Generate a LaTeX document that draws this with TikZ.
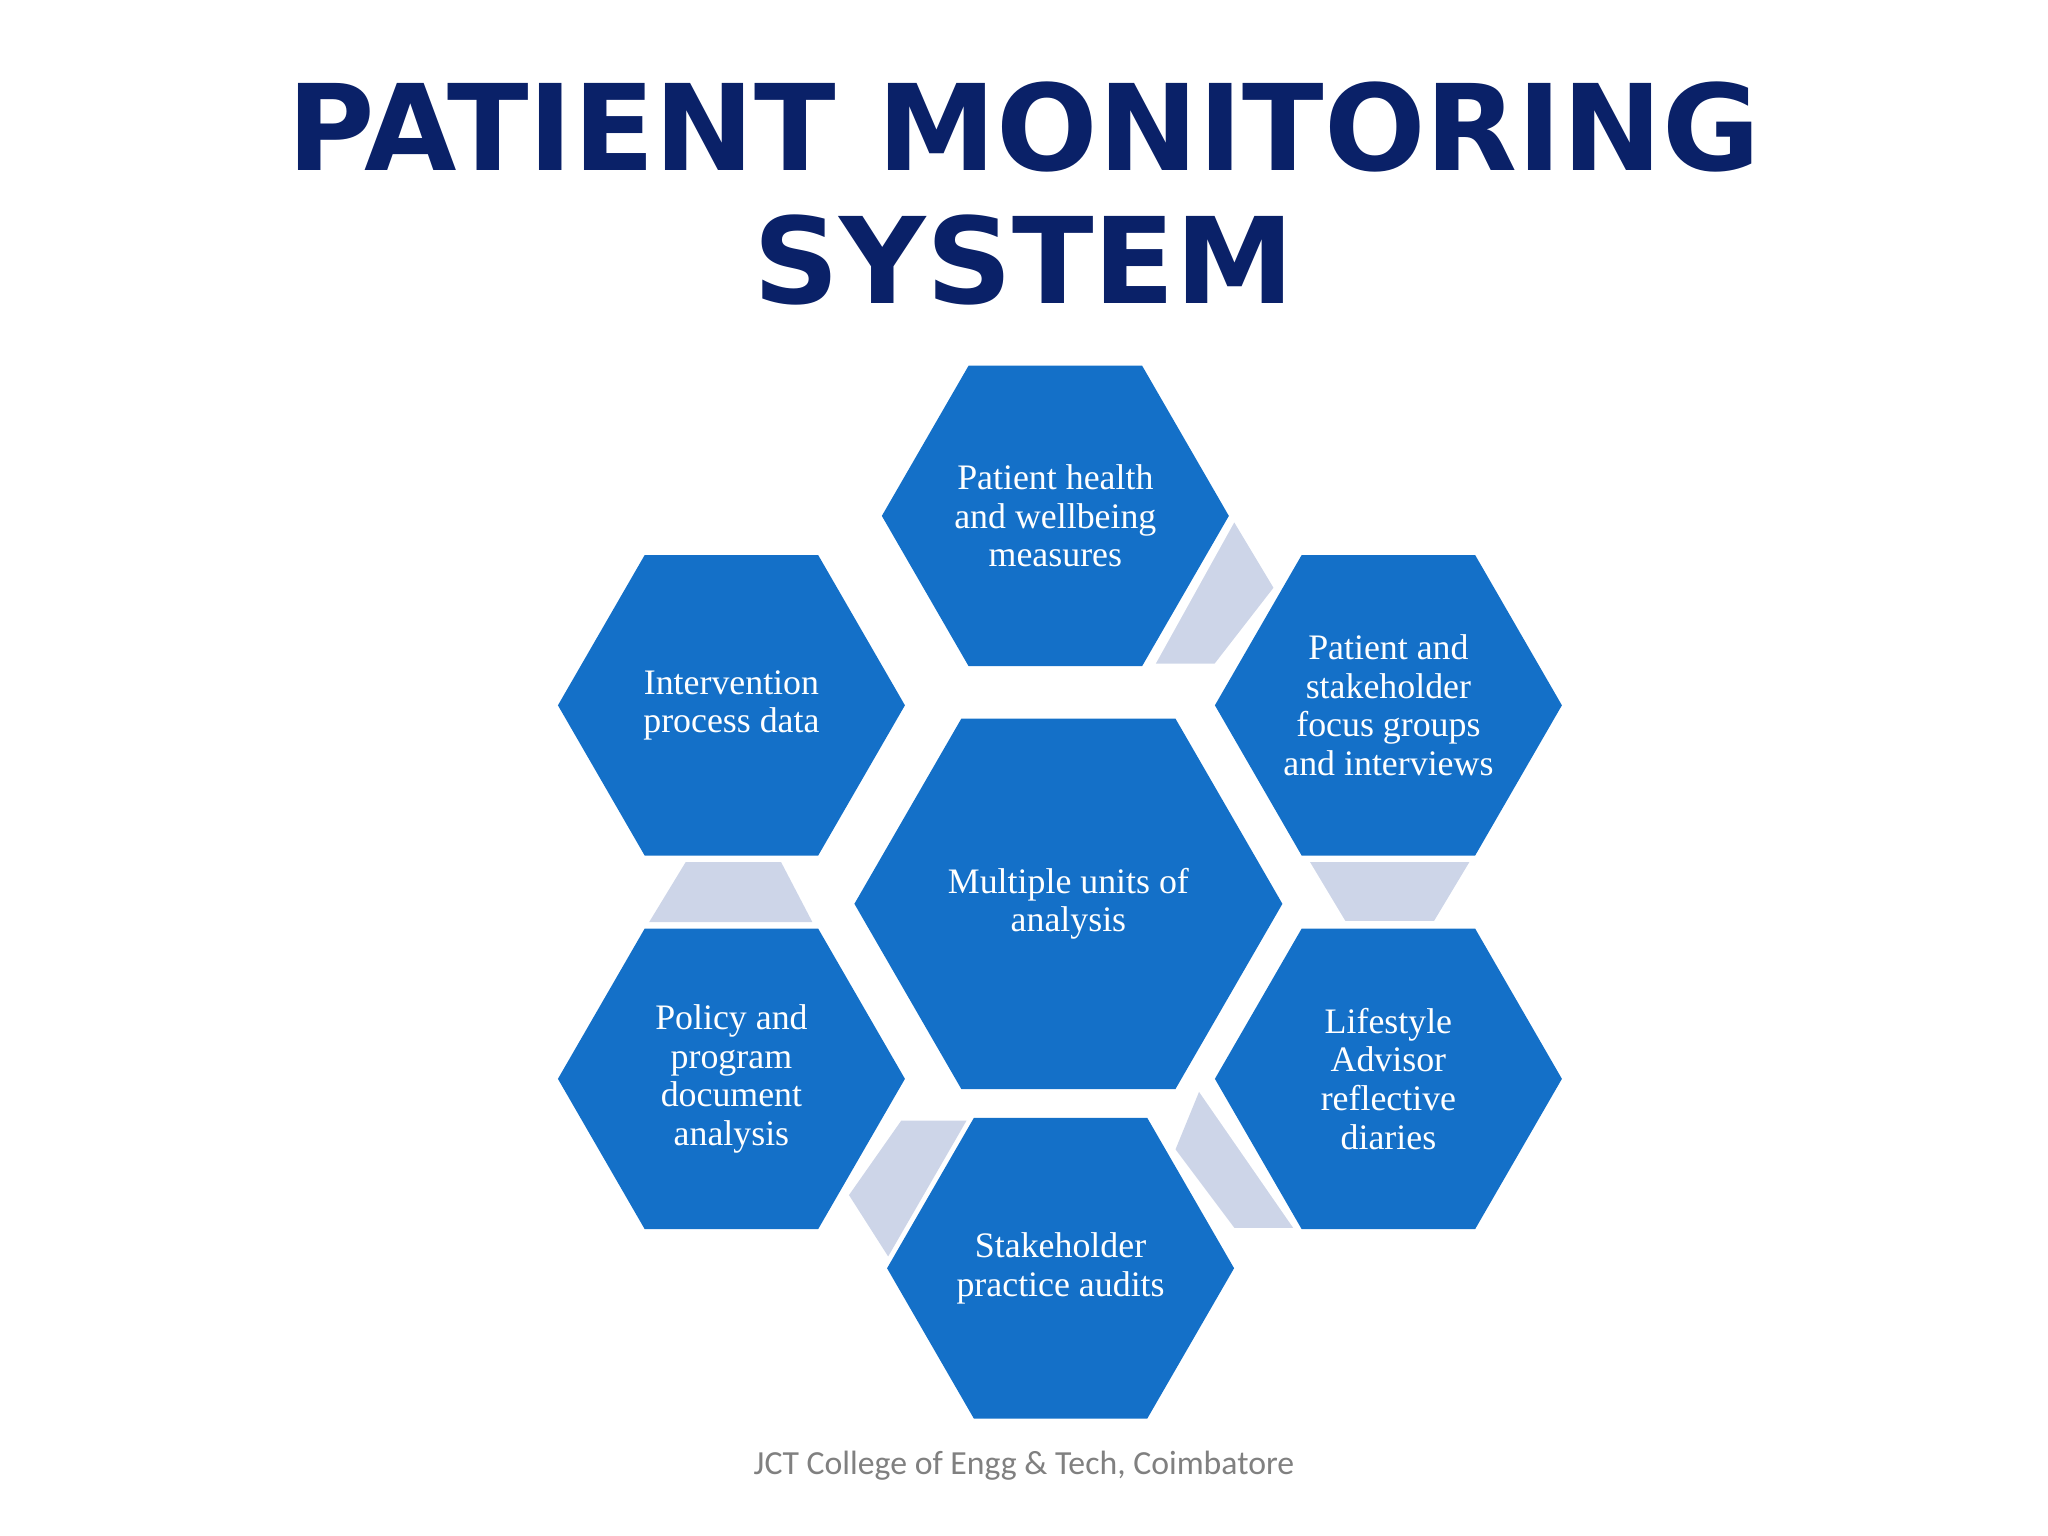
\documentclass[tikz,border=0pt]{standalone}
\usepackage{fontspec}
\setmainfont{Liberation Serif}
\newfontfamily\titlefont{DejaVu Sans}
\newfontfamily\footfont{Carlito}
\usetikzlibrary{shapes.geometric}
\definecolor{hexblue}{HTML}{1470C8}
\definecolor{linkgray}{HTML}{CDD5E8}
\definecolor{navy}{HTML}{0A2168}
\tikzstyle{hexa} = [regular polygon,regular polygon sides=6,inner sep=0pt,
                    minimum size=3.47cm,fill=hexblue,text=white,align=center,
                    font=\fontsize{10.2}{11}\selectfont]
\tikzstyle{link} = [fill=linkgray]
\begin{document}
\begin{tikzpicture}[x=0.01306cm,y=-0.01306cm]
 \useasboundingbox (0,0) rectangle (1568,1176);
 % links between cells
 \fill [link] (945,400) -- (975,450) -- (930,508) -- (885,508) -- cycle;
 \fill [link] (525,660) -- (598,660) -- (622,706) -- (497,706) -- cycle;
 \fill [link] (1003,660) -- (1125,660) -- (1098,705) -- (1030,705) -- cycle;
 \fill [link] (918,836) -- (990,940) -- (945,940) -- (900,880) -- cycle;
 \fill [link] (690,858) -- (740,858) -- (680,962) -- (650,915) -- cycle;
 % cells
 \node (PH) [hexa] at (808,395) {Patient health\\and wellbeing\\measures};
 \node (PS) [hexa] at (1063,540) {Patient and\\stakeholder\\focus groups\\and interviews};
 \node (ID) [hexa] at (560,540) {Intervention\\process data};
 \node (MU) [hexa,minimum size=4.28cm] at (818,692) {Multiple units of\\analysis};
 \node (PP) [hexa] at (560,826) {Policy and\\program\\document\\analysis};
 \node (LA) [hexa] at (1063,826) {Lifestyle\\Advisor\\reflective\\diaries};
 \node (SA) [hexa] at (812,971) {Stakeholder\\practice audits};
 % title and footer
 \node (T) [text=navy,align=center,font=\titlefont\bfseries\fontsize{34}{38}\selectfont]
       at (784,148) {PATIENT MONITORING\\SYSTEM};
 \node (F) [text=gray,font=\footfont\fontsize{9.6}{10}\selectfont] at (784,1122)
       {JCT College of Engg \& Tech, Coimbatore};
\end{tikzpicture}
\end{document}
